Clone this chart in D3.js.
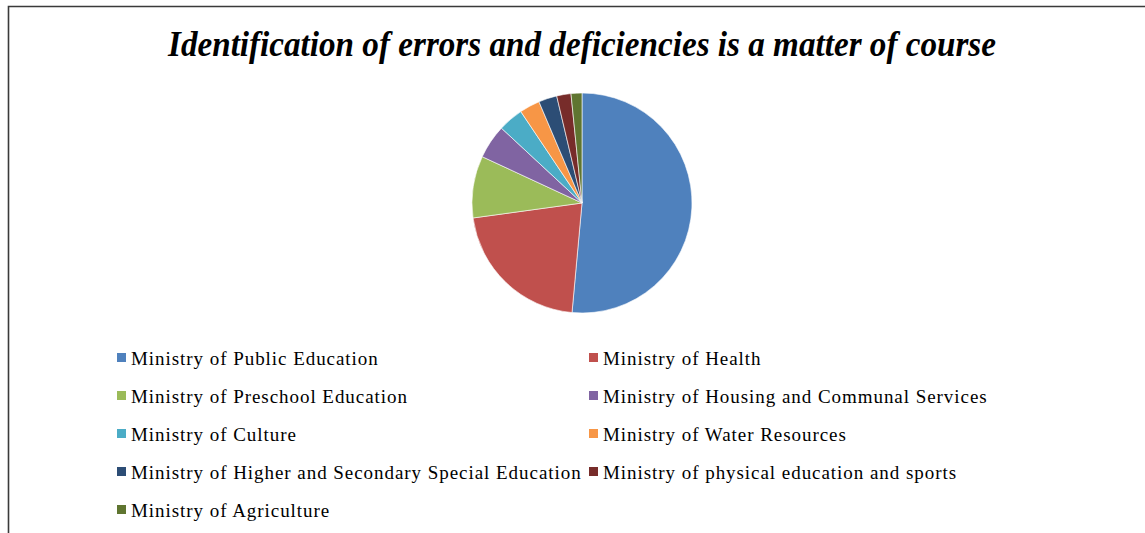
<!DOCTYPE html>
<html><head><meta charset="utf-8">
<script src="https://cdn.jsdelivr.net/npm/d3@7/dist/d3.min.js"></script>
<style>body{margin:0;background:#fff}svg{display:block}</style>
</head><body>
<svg id="c" width="1145" height="533"></svg>
<script>
const title = "Identification of errors and deficiencies is a matter of course";
const categories = [
  "Ministry of Public Education",
  "Ministry of Health",
  "Ministry of Preschool Education",
  "Ministry of Housing and Communal Services",
  "Ministry of Culture",
  "Ministry of Water Resources",
  "Ministry of Higher and Secondary Special Education",
  "Ministry of physical education and sports",
  "Ministry of Agriculture"
];
const values = [51.5, 21.4, 9.1, 5.0, 3.7, 3.0, 2.7, 2.1, 1.6];
const colors = ["#4F81BD","#C0504D","#9BBB59","#8064A2","#4BACC6","#F79646","#2C4D75","#772C2A","#5F7530"];

const svg = d3.select("#c");
svg.append("rect").attr("width",1145).attr("height",533).attr("fill","#fff");
// frame
svg.append("path").attr("d","M8.5,533 V6.5 H1145").attr("fill","none").attr("stroke","#3a3a3a").attr("stroke-width",1.6);

svg.append("text").attr("x",582).attr("y",56).attr("text-anchor","middle")
  .attr("font-family","'Liberation Serif','Times New Roman',serif")
  .attr("font-weight","bold").attr("font-style","italic").attr("font-size",36)
  .attr("textLength",828).attr("lengthAdjust","spacingAndGlyphs")
  .attr("fill","#000").text(title);

const color = d3.scaleOrdinal().domain(categories).range(colors);
const pie = d3.pie().sort(null).value(d=>d.v);
const arcs = pie(categories.map((c,i)=>({c, v: values[i]})));
const arc = d3.arc().innerRadius(0).outerRadius(110);
svg.append("g").attr("transform","translate(582,203)")
  .selectAll("path").data(arcs).join("path")
  .attr("d",arc).attr("fill",d=>color(d.data.c))
  .attr("stroke","#fff").attr("stroke-width",0.6);

const lg = svg.append("g");
const colX = [117, 589];
categories.forEach((c,i)=>{
  const col = i%2, row = Math.floor(i/2);
  const y = 358 + row*38;
  const g = lg.append("g").attr("transform",`translate(${colX[col]},${y})`);
  g.append("rect").attr("x",0).attr("y",-5).attr("width",9).attr("height",9).attr("fill",color(c));
  g.append("text").attr("x",14).attr("y",7).attr("font-family","'Liberation Serif','Times New Roman',serif")
    .attr("font-size",19).attr("letter-spacing",0.95).attr("fill","#000").text(c);
});
</script>
</body></html>
